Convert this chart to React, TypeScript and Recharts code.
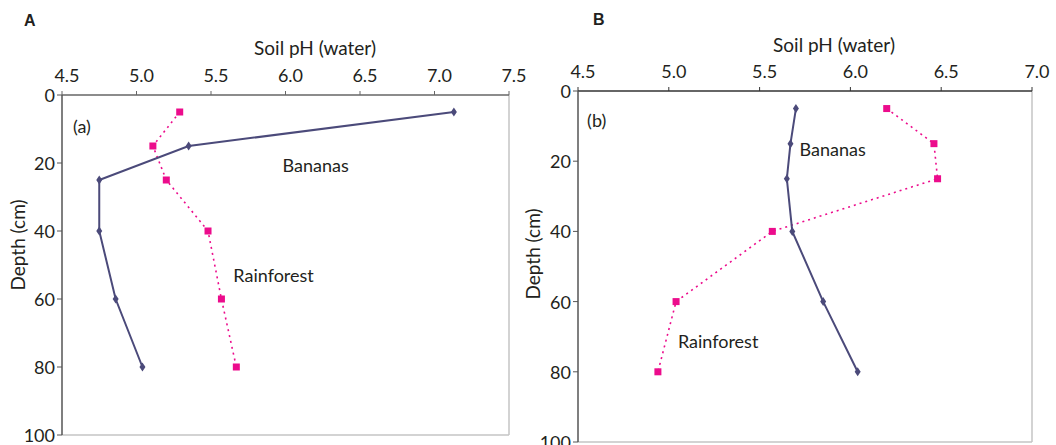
import React from 'react';
import { ScatterChart, Scatter, XAxis, YAxis, ReferenceLine, ReferenceDot, Label } from 'recharts';

// depths (cm) at which soil pH was measured
const depths = [5, 15, 25, 40, 60, 80];

// panel A
const bananasA = [7.13, 5.35, 4.75, 4.75, 4.86, 5.04];
const rainforestA = [5.29, 5.11, 5.2, 5.48, 5.57, 5.67];
// panel B
const bananasB = [5.7, 5.67, 5.65, 5.68, 5.85, 6.04];
const rainforestB = [6.2, 6.46, 6.48, 5.57, 5.04, 4.94];

const phTicksA = [4.5, 5.0, 5.5, 6.0, 6.5, 7.0, 7.5];
const phTicksB = [4.5, 5.0, 5.5, 6.0, 6.5, 7.0];
const depthTicks = [0, 20, 40, 60, 80, 100];

const NAVY = '#4b4a7a';
const PINK = '#ec0c8c';
const TEXT = '#231f20';
const FONT = 'Lato, "Open Sans", sans-serif';

const toPoints = (ph: number[]) => ph.map((v, i) => ({ ph: v, depth: depths[i] }));

const Diamond = (props: any) => {
  const { cx, cy } = props;
  if (cx == null || cy == null) return null;
  return <polygon points={`${cx},${cy - 4.5} ${cx + 3},${cy} ${cx},${cy + 4.5} ${cx - 3},${cy}`} fill={NAVY} />;
};

const Square = (props: any) => {
  const { cx, cy } = props;
  if (cx == null || cy == null) return null;
  return <rect x={cx - 3.5} y={cy - 3.5} width={7} height={7} fill={PINK} />;
};

const XTick = (props: any) => {
  const { x, y, payload } = props;
  return (
    <text x={x + 5} y={y} textAnchor="middle" fill={TEXT} fontSize={18} fontFamily={FONT}>
      {Number(payload.value).toFixed(1)}
    </text>
  );
};

const YTick = (props: any) => {
  const { x, y, payload } = props;
  return (
    <text x={x} y={y} textAnchor="end" dominantBaseline="central" fill={TEXT} fontSize={18} fontFamily={FONT}>
      {payload.value}
    </text>
  );
};

const note = (text: string) => (
  <Label
    content={(p: any) => {
      const vb = p.viewBox || {};
      const cx = vb.cx ?? vb.x;
      const cy = vb.cy ?? vb.y;
      return (
        <text x={cx} y={cy} dominantBaseline="central" fill={TEXT} fontSize={18} fontFamily={FONT}>
          {text}
        </text>
      );
    }}
  />
);

interface PanelProps {
  left: number;
  width: number;
  margin: { top: number; right: number; bottom: number; left: number };
  ticks: number[];
  bananas: number[];
  rainforest: number[];
  notes: { x: number; y: number; text: string }[];
  axisColor: string;
}

const Panel: React.FC<PanelProps> = ({ left, width, margin, ticks, bananas, rainforest, notes, axisColor }) => (
  <div style={{ position: 'absolute', left, top: 0 }}>
    <ScatterChart width={width} height={445} margin={margin}>
      <XAxis
        type="number"
        dataKey="ph"
        orientation="top"
        domain={[ticks[0], ticks[ticks.length - 1]]}
        ticks={ticks}
        interval={0}
        height={30}
        tickSize={4}
        tickMargin={9}
        tick={<XTick />}
        axisLine={{ stroke: axisColor, strokeWidth: 1.5 }}
        tickLine={{ stroke: axisColor }}
      />
      <YAxis
        type="number"
        dataKey="depth"
        reversed
        domain={[0, 100]}
        ticks={depthTicks}
        interval={0}
        width={40}
        tickSize={5}
        tickMargin={2}
        tick={<YTick />}
        axisLine={{ stroke: '#555', strokeWidth: 1.5 }}
        tickLine={{ stroke: '#555' }}
      />
      <ReferenceLine x={ticks[ticks.length - 1]} stroke="#c4c4c4" strokeWidth={1.5} />
      <ReferenceLine y={100} stroke="#c4c4c4" strokeWidth={1.5} />
      <Scatter
        data={toPoints(rainforest)}
        shape={<Square />}
        line={{ stroke: PINK, strokeWidth: 1.6, strokeDasharray: '2 4' }}
        lineJointType="linear"
        isAnimationActive={false}
      />
      <Scatter
        data={toPoints(bananas)}
        shape={<Diamond />}
        line={{ stroke: NAVY, strokeWidth: 2 }}
        lineJointType="linear"
        isAnimationActive={false}
      />
      {notes.map((n) => (
        <ReferenceDot key={n.text} x={n.x} y={n.y} r={0} fill="none" stroke="none" ifOverflow="visible">
          {note(n.text)}
        </ReferenceDot>
      ))}
    </ScatterChart>
  </div>
);

const textStyle: React.CSSProperties = {
  position: 'absolute',
  fontFamily: FONT,
  color: TEXT,
  whiteSpace: 'nowrap',
  lineHeight: 1,
};

export default function App() {
  return (
    <div style={{ position: 'absolute', left: 0, top: 0, width: 1056, height: 445, background: '#fff', overflow: 'hidden' }}>
      <Panel
        left={0}
        width={528}
        margin={{ top: 65, right: 19, bottom: 10, left: 22 }}
        ticks={phTicksA}
        bananas={bananasA}
        rainforest={rainforestA}
        axisColor="#666"
        notes={[
          { x: 4.574, y: 9.1, text: '(a)' },
          { x: 5.98, y: 20.6, text: 'Bananas' },
          { x: 5.65, y: 53, text: 'Rainforest' },
        ]}
      />
      <Panel
        left={528}
        width={528}
        margin={{ top: 61, right: 24, bottom: 3, left: 10 }}
        ticks={phTicksB}
        bananas={bananasB}
        rainforest={rainforestB}
        axisColor="#333"
        notes={[
          { x: 4.55, y: 8.3, text: '(b)' },
          { x: 5.72, y: 16.5, text: 'Bananas' },
          { x: 5.05, y: 71.2, text: 'Rainforest' },
        ]}
      />
      <div style={{ ...textStyle, left: 24, top: 13, fontSize: 16, fontWeight: 700, fontFamily: 'Arial, sans-serif' }}>A</div>
      <div style={{ ...textStyle, left: 593, top: 12, fontSize: 16, fontWeight: 700, fontFamily: 'Arial, sans-serif' }}>B</div>
      <div style={{ ...textStyle, left: 315, top: 47, fontSize: 19, transform: 'translate(-50%, -50%)' }}>Soil pH (water)</div>
      <div style={{ ...textStyle, left: 834, top: 44, fontSize: 19, transform: 'translate(-50%, -50%)' }}>Soil pH (water)</div>
      <div style={{ ...textStyle, left: 17, top: 245, fontSize: 19, transform: 'translate(-50%, -50%) rotate(-90deg)' }}>Depth (cm)</div>
      <div style={{ ...textStyle, left: 532, top: 254, fontSize: 19, transform: 'translate(-50%, -50%) rotate(-90deg)' }}>Depth (cm)</div>
    </div>
  );
}
